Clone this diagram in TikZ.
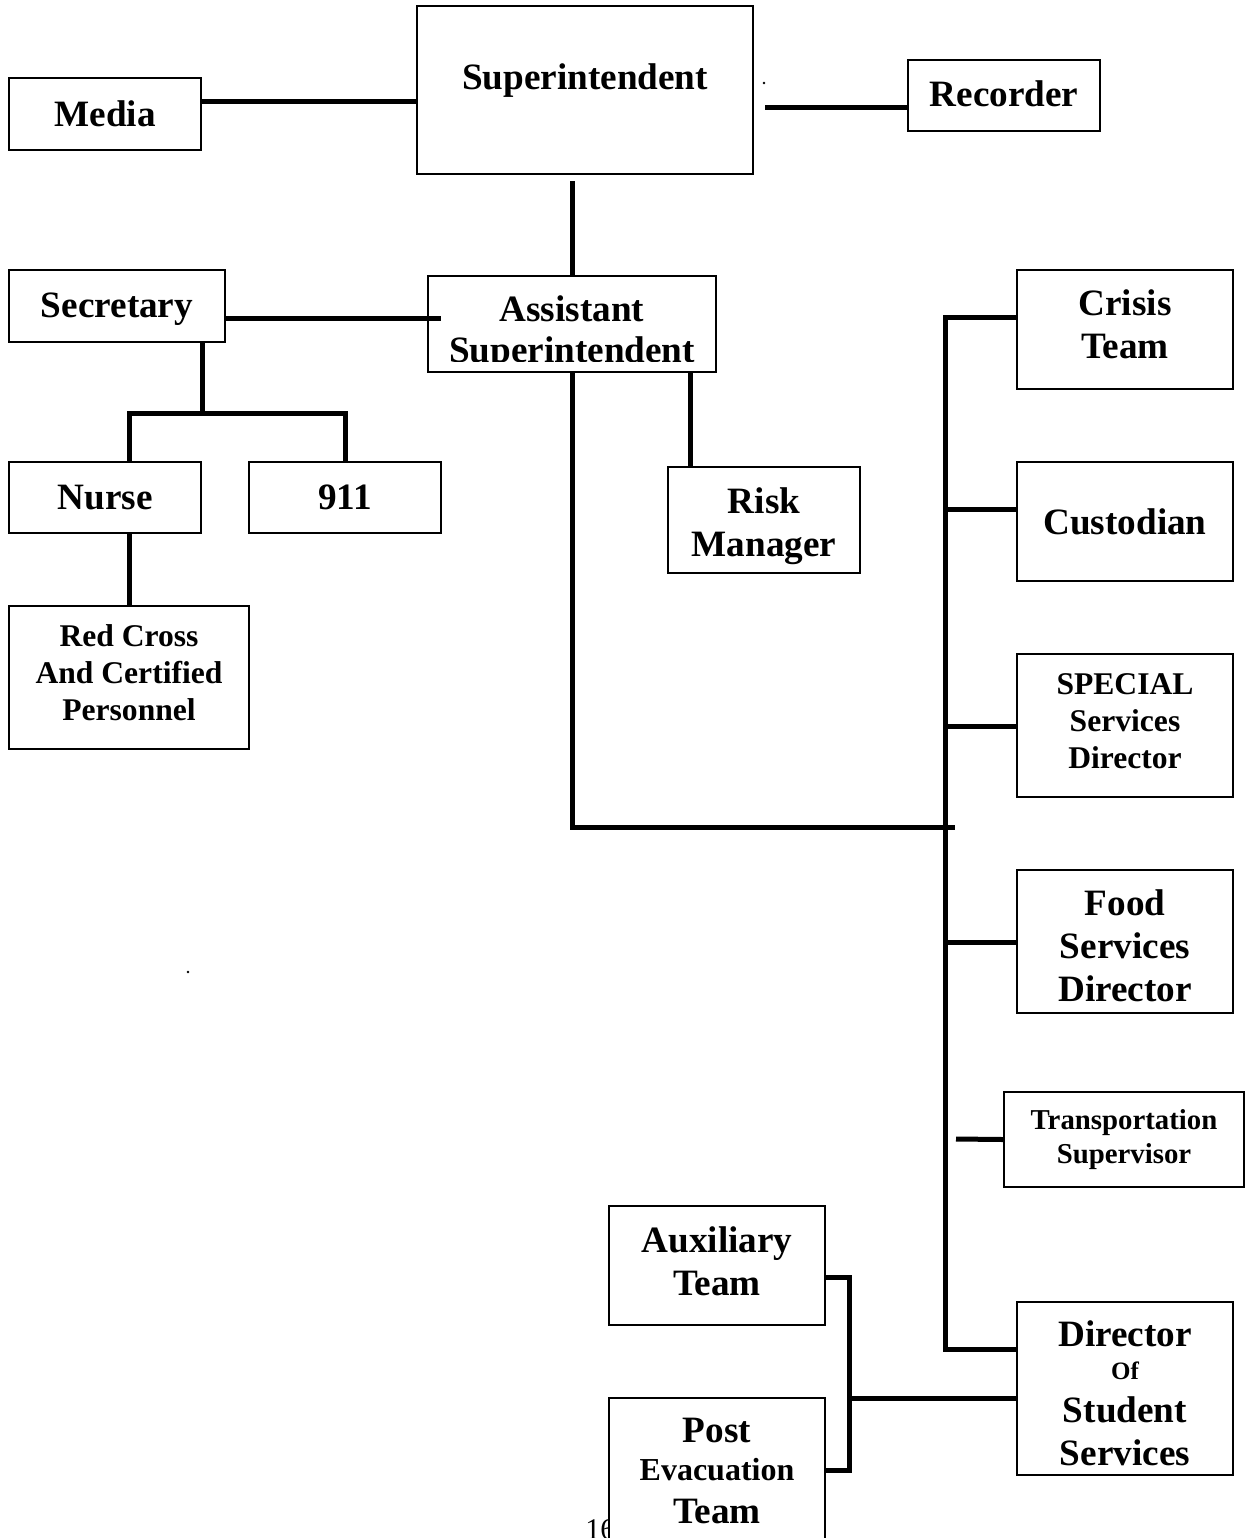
\documentclass[tikz,border=0pt]{standalone}
\usepackage{fontspec}
\setmainfont{Liberation Serif}

\tikzset{
	bigtext/.style={font=\bfseries\fontsize{18.6}{21.5}\selectfont, align=center},
	midtext/.style={font=\bfseries\fontsize{15.8}{18.5}\selectfont, align=center},
	smalltext/.style={font=\bfseries\fontsize{14.4}{17}\selectfont, align=center},
	box/.style={draw, line width=1pt, fill=white, inner sep=0pt},
	link/.style={line width=2.5pt},
}

\begin{document}
\begin{tikzpicture}[x=0.5pt, y=-0.5pt]
	\useasboundingbox (0,0) rectangle (1246,1538);
	\clip (0,0) rectangle (1246,1538);
	\node[anchor=base west, inner sep=0pt, font=\fontsize{15}{17}\selectfont] (pagenum) at (585,1539) {16};
	\node[box, minimum width=96pt, minimum height=36pt, label={[bigtext]center:Media}] (media) at (105,114) {};
	\node[box, minimum width=168pt, minimum height=84pt, label={[bigtext, yshift=4.5pt]center:Superintendent}] (super) at (585,90) {};
	\node[box, minimum width=96pt, minimum height=35.5pt, label={[bigtext, yshift=1pt]center:Recorder}] (recorder) at (1004,95.5) {};
	\node[box, minimum width=108pt, minimum height=36pt, label={[bigtext, yshift=-1.5pt]center:Secretary}] (sec) at (117,306) {};
	\node[box, minimum width=144pt, minimum height=48pt] (asst) at (572,324) {};
	\begin{scope}
		\clip (430,278) rectangle (714,361);
		\node[bigtext, anchor=base] (asstA) at (572,321) {Assistant};
		\node[bigtext, anchor=base] (asstB) at (572,362) {Superintendent};
	\end{scope}
	\node[box, minimum width=96pt, minimum height=35.5pt, label={[bigtext]center:Nurse}] (nurse) at (105,497.5) {};
	\node[box, minimum width=96pt, minimum height=35.5pt, label={[bigtext]center:911}] (call) at (345,497.5) {};
	\node[box, minimum width=120pt, minimum height=71.5pt, label={[midtext, yshift=2.5pt]center:Red Cross\\And Certified\\Personnel}] (redcross) at (129,677.5) {};
	\node[box, minimum width=96pt, minimum height=53pt, label={[bigtext, yshift=-3pt]center:Risk\\Manager}] (risk) at (764,520) {};
	\node[box, minimum width=108pt, minimum height=59.5pt, label={[bigtext, yshift=2.5pt]center:Crisis\\Team}] (crisis) at (1125,329.5) {};
	\node[box, minimum width=108pt, minimum height=59.5pt, label={[bigtext]center:Custodian}] (cust) at (1125,521.5) {};
	\node[box, minimum width=108pt, minimum height=71.5pt, label={[midtext, yshift=2pt]center:SPECIAL\\Services\\Director}] (special) at (1125,725.5) {};
	\node[box, minimum width=108pt, minimum height=71.5pt, label={[bigtext, yshift=-2pt]center:Food\\Services\\Director}] (food) at (1125,941.5) {};
	\node[box, minimum width=120pt, minimum height=47.5pt, label={[smalltext]center:Transportation\\Supervisor}] (transport) at (1124,1139.5) {};
	\node[box, minimum width=108pt, minimum height=59.5pt, label={[bigtext, yshift=2pt]center:Auxiliary\\Team}] (aux) at (717,1265.5) {};
	\node[box, minimum width=108pt, minimum height=73pt, label={[bigtext]center:Post\\[-2.5pt]{\fontsize{16}{18}\selectfont Evacuation}\\Team}] (post) at (717,1471) {};
	\node[box, minimum width=108pt, minimum height=86.5pt, label={[bigtext, yshift=-2.5pt]center:Director\\[-5pt]{\fontsize{12.5}{15}\selectfont Of}\\Student\\Services}] (dss) at (1125,1388.5) {};

	\coordinate (supR) at (765,107);
	\coordinate (supB) at (572,181);
	\coordinate (asstL) at (441,318);
	\coordinate (asstJ) at (955,827);
	\coordinate (trunkT) at (945,317);
	\coordinate (trunkB) at (945,1349);
	\coordinate (transL) at (956,1139);
	\coordinate (brk) at (849,1398);

	\draw[link] (media.east |- 0,101) -- (super.west |- 0,101);
	\draw[link] (supR) -- (recorder.west |- supR);
	\draw[link] (supB) -- (asst.north);
	\draw[link] (sec.east |- asstL) -- (asstL);
	\draw[link] (sec.south -| nurse.east) -- (nurse.east |- 0,413);
	\draw[link] (redcross.north |- nurse.north) |- (call.north |- 0,413) -- (call.north);
	\draw[link] (nurse.south -| redcross.north) -- (redcross.north);
	\draw[link] (asst.south -| 690,0) -- (risk.north -| 690,0);
	\draw[link] (asst.south) |- (asstJ);
	\draw[link] (crisis.west |- trunkT) -- (trunkT) -- (trunkB) -- (dss.west |- trunkB);
	\foreach \n/\y in {cust/509, special/726, food/942}
		\draw[link] (trunkT |- 0,\y) -- (\n.west |- 0,\y);
	\draw[link] (transL) -- (transport.west);
	\draw[link] (aux.east |- 0,1277) -| (brk) |- (post.east |- 0,1470);
	\draw[link] (brk) -- (dss.west |- brk);

	\fill (764,83) circle (0.7pt);
	\fill (188,972) circle (0.7pt);
\end{tikzpicture}
\end{document}
